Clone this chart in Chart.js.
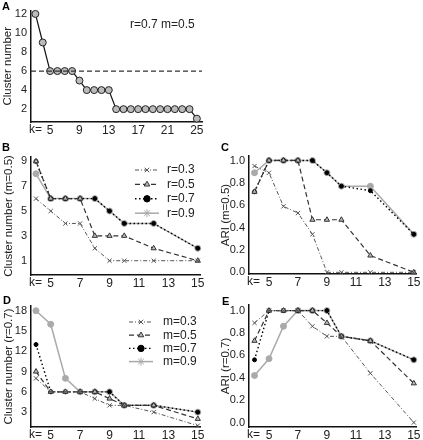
<!DOCTYPE html>
<html>
<head>
<meta charset="utf-8">
<script src="https://cdn.jsdelivr.net/npm/chart.js@4/dist/chart.umd.min.js"></script>
<style>
  body { margin: 0; background: #fff; width: 423px; height: 440px; position: relative; overflow: hidden; }
  canvas { position: absolute; }
</style>
</head>
<body>
<canvas id="pa" width="210" height="140" style="left:0;top:0"></canvas>
<canvas id="pb" width="210" height="155" style="left:0;top:135px"></canvas>
<canvas id="pc" width="213" height="155" style="left:210px;top:135px"></canvas>
<canvas id="pd" width="210" height="150" style="left:0;top:290px"></canvas>
<canvas id="pe" width="213" height="150" style="left:210px;top:290px"></canvas>
<script>
// panel A: cluster number vs k (r=0.7, m=0.5)
const kA = [3, 4, 5, 6, 7, 8, 9, 10, 11, 12, 13, 14, 15, 16, 17, 18, 19, 20, 21, 22, 23, 24, 25]
const clusterA = [12, 9, 6, 6, 6, 6, 5, 4, 4, 4, 4, 2, 2, 2, 2, 2, 2, 2, 2, 2, 2, 2, 1]
const refLineA = 6
const xTicksA = [5, 9, 13, 17, 21, 25]
const yTicksA = [2, 4, 6, 8, 10, 12]

// panels B-E share these k values
const kSeries = [4, 5, 6, 7, 8, 9, 10, 12, 15]
const xTicksSeries = [5, 7, 9, 11, 13, 15]
const rLabels = ['r=0.3', 'r=0.5', 'r=0.7', 'r=0.9']
const mLabels = ['m=0.3', 'm=0.5', 'm=0.7', 'm=0.9']

// B: cluster number (m=0.5)
const bR03 = [6, 5, 4, 4, 2, 1, 1, 1, 1]
const bR05 = [9, 6, 6, 6, 3, 3, 3, 2, 1]
const bR07 = [9, 6, 6, 6, 6, 5, 4, 4, 2]
const bR09 = [8, 6, 6, 6, 6, 5, 4, 4, 2]
const yTicksB = [1, 3, 5, 7, 9]

// C: ARI (m=0.5)
const cR03 = [0.95, 0.89, 0.59, 0.53, 0.34, 0, 0, 0, 0]
const cR05 = [0.72, 1, 1, 1, 0.47, 0.47, 0.47, 0.15, 0]
const cR07 = [0.72, 1, 1, 1, 1, 0.89, 0.77, 0.73, 0.34]
const cR09 = [0.89, 1, 1, 1, 1, 0.89, 0.77, 0.77, 0.34]
const yTicksARI = [0, 0.2, 0.4, 0.6, 0.8, 1]

// D: cluster number (r=0.7)
const dM03 = [8, 6, 6, 6, 5, 4, 4, 3, 1]
const dM05 = [9, 6, 6, 6, 6, 5, 4, 4, 2]
const dM07 = [13, 6, 6, 6, 6, 6, 4, 4, 3]
const dM09 = [18, 16, 8, 6, 6, 6, 4, 4, 3]
const yTicksD = [3, 6, 9, 12, 15, 18]

// E: ARI (r=0.7)
const eM03 = [0.89, 1, 1, 1, 0.86, 0.77, 0.77, 0.44, 0]
const eM05 = [0.73, 1, 1, 1, 1, 0.89, 0.77, 0.73, 0.35]
const eM07 = [0.56, 1, 1, 1, 1, 1, 0.77, 0.73, 0.56]
const eM09 = [0.42, 0.57, 0.86, 1, 1, 1, 0.77, 0.73, 0.56]

const FONT = '"Liberation Sans", Arial, sans-serif'

const seriesStyle = [
  { borderColor: '#555', borderWidth: 1, borderDash: [4, 2, 1, 2], pointStyle: 'crossRot', pointRadius: 3, pointBorderColor: '#555', pointBackgroundColor: '#555', pointBorderWidth: 1, legendPoint: 'crossRot' },
  { borderColor: '#333', borderWidth: 1.2, borderDash: [5, 3], pointStyle: 'triangle', pointRadius: 3, pointBorderColor: '#333', pointBackgroundColor: '#bbb', pointBorderWidth: 1, legendPoint: 'triangle' },
  { borderColor: '#000', borderWidth: 1.4, borderDash: [1.5, 2.5], pointStyle: 'circle', pointRadius: 2, pointBorderColor: '#000', pointBackgroundColor: '#000', pointBorderWidth: 1, legendPoint: 'circle' },
  { borderColor: '#aaa', borderWidth: 1.5, borderDash: [], pointStyle: 'circle', pointRadius: 3, pointBorderColor: '#aaa', pointBackgroundColor: '#aaa', pointBorderWidth: 1, legendPoint: 'star' }
]

function toPoints(ks, vals) {
  return ks.map((k, i) => ({ x: k, y: vals[i] }))
}

function seriesSets(valueLists, labels) {
  return valueLists.map((vals, i) => Object.assign({
    label: labels[i],
    data: toPoints(kSeries, vals),
    fill: false,
    tension: 0,
    clip: false
  }, seriesStyle[i]))
}

// letters, "k=", notes, reference line, hand-drawn legend
const decorPlugin = {
  id: 'panelDecor',
  afterDraw(chart, args, opts) {
    const ctx = chart.ctx
    const area = chart.chartArea
    ctx.save()
    ctx.fillStyle = '#000'
    ctx.textBaseline = 'middle'
    ctx.textAlign = 'left'
    ctx.font = 'bold 11px ' + FONT
    ctx.fillText(opts.letter, opts.letterX, opts.letterY)

    ctx.fillStyle = '#222'
    ctx.font = '12px ' + FONT
    ctx.fillText('k=', area.left - 2, area.bottom + 7.5)

    if (opts.note) {
      ctx.font = '12px ' + FONT
      ctx.fillText(opts.note, opts.noteX, opts.noteY)
    }

    if (opts.refLine !== undefined) {
      const y = chart.scales.y.getPixelForValue(opts.refLine)
      ctx.strokeStyle = '#333'
      ctx.lineWidth = 1.3
      ctx.setLineDash([5, 3])
      ctx.beginPath()
      ctx.moveTo(area.left, y)
      ctx.lineTo(area.right, y)
      ctx.stroke()
      ctx.setLineDash([])
    }

    if (opts.legend) {
      const lg = opts.legend
      chart.data.datasets.forEach((ds, i) => {
        const y = lg.y + i * lg.rowGap
        ctx.strokeStyle = ds.borderColor
        ctx.lineWidth = ds.borderWidth
        ctx.setLineDash(ds.borderDash)
        ctx.beginPath()
        ctx.moveTo(lg.x, y)
        ctx.lineTo(lg.x + lg.sample, y)
        ctx.stroke()
        ctx.setLineDash([])
        ctx.fillStyle = ds.pointBackgroundColor
        ctx.strokeStyle = ds.pointBorderColor
        ctx.lineWidth = 1
        Chart.helpers.drawPoint(ctx, {
          pointStyle: ds.legendPoint,
          radius: ds.legendPoint === 'star' ? 4 : 3.2,
          borderWidth: 1,
          rotation: 0
        }, lg.x + lg.sample / 2, y)
        ctx.fillStyle = '#222'
        ctx.font = '12px ' + FONT
        ctx.textAlign = 'left'
        ctx.fillText(ds.label, lg.x + lg.sample + lg.textGap, y)
      })
    }
    ctx.restore()
  }
}

function makePanel(id, cfg) {
  const el = document.getElementById(id)
  const a = cfg.area
  return new Chart(el, {
    type: 'line',
    data: { datasets: cfg.datasets },
    options: {
      responsive: false,
      animation: false,
      events: [],
      layout: { padding: { top: a.top, right: el.width - a.right, left: 0, bottom: 0 } },
      plugins: {
        legend: { display: false },
        tooltip: { enabled: false },
        panelDecor: cfg.decor
      },
      scales: {
        x: {
          type: 'linear',
          min: cfg.xMin,
          max: cfg.xMax,
          afterFit: s => { s.height = el.height - a.bottom },
          afterBuildTicks: s => { s.ticks = cfg.xTicks.map(v => ({ value: v })) },
          grid: { display: false, drawTicks: false },
          border: { display: true, color: '#111', width: 1.5 },
          ticks: { font: { family: FONT, size: 12 }, color: '#222', padding: 1, maxRotation: 0, autoSkip: false }
        },
        y: {
          min: cfg.yMin,
          max: cfg.yMax,
          afterFit: s => { s.width = a.left },
          afterBuildTicks: s => { s.ticks = cfg.yTicks.map(v => ({ value: v })) },
          grid: { display: false, drawTicks: false },
          border: { display: true, color: '#111', width: 1.5 },
          ticks: {
            font: { family: FONT, size: 11 }, color: '#222', padding: 4, autoSkip: false,
            callback: cfg.yFormat || (v => v)
          },
          title: {
            display: true, text: cfg.yTitle, color: '#222',
            font: { family: FONT, size: 11.5 }, padding: { top: cfg.titlePad, bottom: 0 }
          }
        }
      }
    },
    plugins: [decorPlugin]
  })
}

makePanel('pa', {
  area: { left: 31, top: 10, right: 202, bottom: 122 },
  datasets: [{
    data: toPoints(kA, clusterA),
    borderColor: '#111', borderWidth: 1.2, tension: 0, clip: false,
    pointRadius: 3.5, pointBackgroundColor: '#bbb', pointBorderColor: '#222', pointBorderWidth: 1
  }],
  xMin: 2.4, xMax: 25.7, xTicks: xTicksA,
  yMin: 0.65, yMax: 12.35, yTicks: yTicksA,
  yTitle: 'Cluster number', titlePad: 1,
  decor: { letter: 'A', letterX: 2, letterY: 7, note: 'r=0.7 m=0.5', noteX: 130, noteY: 25, refLine: refLineA }
})

makePanel('pb', {
  area: { left: 31, top: 22, right: 200, bottom: 140 },
  datasets: seriesSets([bR03, bR05, bR07, bR09], rLabels),
  xMin: 3.66, xMax: 15.15, xTicks: xTicksSeries,
  yMin: -0.15, yMax: 9.35, yTicks: yTicksB,
  yTitle: 'Cluster number (m=0.5)', titlePad: 2,
  decor: { letter: 'B', letterX: 2, letterY: 13, legend: { x: 135, y: 35, rowGap: 14.4, sample: 24, textGap: 8 } }
})

makePanel('pc', {
  area: { left: 39, top: 21, right: 206, bottom: 139 },
  datasets: seriesSets([cR03, cR05, cR07, cR09], rLabels),
  xMin: 3.62, xMax: 15.15, xTicks: xTicksSeries,
  yMin: -0.015, yMax: 1.04, yTicks: yTicksARI, yFormat: v => v.toFixed(1),
  yTitle: 'ARI (m=0.5)', titlePad: 9,
  decor: { letter: 'C', letterX: 11, letterY: 13 }
})

makePanel('pd', {
  area: { left: 31, top: 16, right: 200, bottom: 137 },
  datasets: seriesSets([dM03, dM05, dM07, dM09], mLabels),
  xMin: 3.66, xMax: 15.15, xTicks: xTicksSeries,
  yMin: 0.8, yMax: 18.7, yTicks: yTicksD,
  yTitle: 'Cluster number (r=0.7)', titlePad: 2,
  decor: { letter: 'D', letterX: 3, letterY: 11, legend: { x: 129, y: 32, rowGap: 13.2, sample: 24, textGap: 10 } }
})

makePanel('pe', {
  area: { left: 39, top: 15, right: 206, bottom: 137 },
  datasets: seriesSets([eM03, eM05, eM07, eM09], mLabels),
  xMin: 3.62, xMax: 15.15, xTicks: xTicksSeries,
  yMin: -0.04, yMax: 1.05, yTicks: yTicksARI, yFormat: v => v.toFixed(1),
  yTitle: 'ARI (r=0.7)', titlePad: 9,
  decor: { letter: 'E', letterX: 12, letterY: 12 }
})
</script>
</body>
</html>
